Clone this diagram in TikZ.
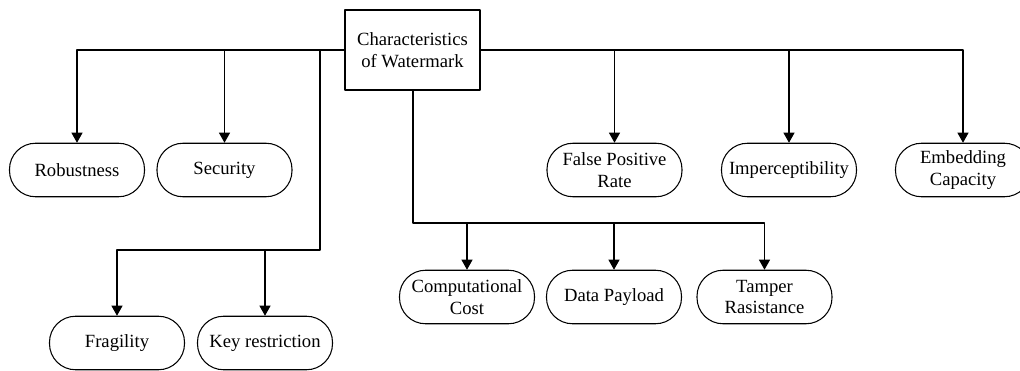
\documentclass[tikz,border=0pt]{standalone}
\usepackage{fontspec}
\setmainfont{Liberation Serif}
\usetikzlibrary{arrows.meta}

\begin{document}
\begin{tikzpicture}[x=1cm,y=1cm,line cap=round,line join=round,
  font=\fontsize{10.6}{12.5}\selectfont,
  topbox/.style={draw,line width=0.6pt,minimum width=2.7cm,minimum height=1.6cm,align=center,inner sep=1pt},
  trait/.style={draw,line width=0.6pt,rounded corners=0.52cm,minimum width=2.7cm,minimum height=1.07cm,align=center,inner sep=1pt},
  link/.style={line width=0.6pt,-{Triangle[length=0.2cm,width=0.22cm]}}]
  \useasboundingbox (0,0) rectangle (20.4,-7.42);
  % root
  \node[topbox] (main) at (8.25,-1.0) {Characteristics\\of Watermark};
  % first row
  \node[trait] (rob) at (1.54,-3.4) {Robustness};
  \node[trait] (sec) at (4.49,-3.4) {Security};
  \node[trait] (fpr) at (12.29,-3.4) {False Positive\\Rate};
  \node[trait] (imp) at (15.78,-3.4) {Imperceptibility};
  \node[trait] (emb) at (19.26,-3.4) {Embedding\\Capacity};
  % middle row
  \node[trait] (comp) at (9.34,-5.94) {Computational\\Cost};
  \node[trait] (pay) at (12.28,-5.94) {Data Payload};
  \node[trait] (tamp) at (15.29,-5.94) {Tamper\\Rasistance};
  % bottom row
  \node[trait] (frag) at (2.34,-6.86) {Fragility};
  \node[trait] (key) at (5.3,-6.86) {Key restriction};
  % branch points
  \coordinate (lft) at (6.4,-5.0);
  \coordinate (mid) at (8.26,-4.46);
  % top bus
  \draw[link] (main.west) -| (rob);
  \draw[link] (sec |- main.west) -- (sec);
  \draw[link] (main.east) -| (emb);
  \draw[link] (fpr |- main.east) -- (fpr);
  \draw[link] (imp |- main.east) -- (imp);
  % left drop
  \draw[link] (lft |- main.west) -- (lft) -| (frag);
  \draw[link] (key |- lft) -- (key);
  % lower bus
  \draw[link] (main.south -| mid) -- (mid) -| (tamp);
  \draw[link] (comp |- mid) -- (comp);
  \draw[link] (pay |- mid) -- (pay);
\end{tikzpicture}
\end{document}
